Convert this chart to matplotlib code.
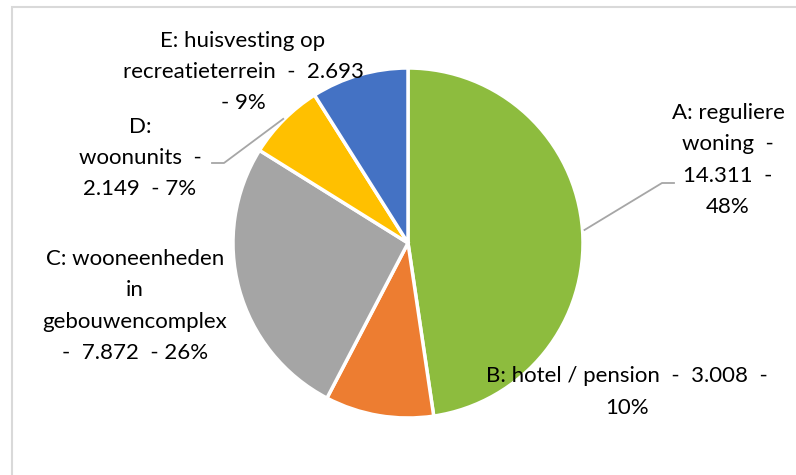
import matplotlib.pyplot as plt
import numpy as np
from matplotlib.patches import Rectangle

# data
cats = ["A: reguliere woning", "B: hotel / pension", "C: wooneenheden in gebouwencomplex",
        "D: woonunits", "E: huisvesting op recreatieterrein"]
values = [14.311, 3.008, 7.872, 2.149, 2.693]
pcts = ["48%", "10%", "26%", "7%", "9%"]
colors = ["#8DBC3E", "#ED7D31", "#A5A5A5", "#FFC000", "#4472C4"]

# label text as wrapped by the original chart
label_txt = [
    "A: reguliere\nwoning  -\n14.311  -\n48%",
    "B: hotel / pension  -  3.008  -\n10%",
    "C: wooneenheden\nin\ngebouwencomplex\n-  7.872  - 26%",
    "D:\nwoonunits  -\n2.149  - 7%",
    "E: huisvesting op\nrecreatieterrein  -  2.693\n- 9%",
]

W, H = 796, 475
fig = plt.figure(figsize=(W / 100, H / 100), dpi=100)
ax = fig.add_axes([0, 0, 1, 1])

cx, cy, r = 408, H - 243, 175
wedges, _ = ax.pie(values, colors=colors, startangle=90, counterclock=False,
                   center=(cx, cy), radius=r, frame=True,
                   wedgeprops=dict(edgecolor="white", linewidth=2.5))
ax.set_xlim(0, W)
ax.set_ylim(0, H)
ax.set_aspect("equal")
ax.axis("off")

# outer border of chart area
ax.add_patch(Rectangle((12, -20), W + 20, H - 7 + 20, fill=False,
                       edgecolor="#D9D9D9", linewidth=1.5))

font = "Lato"
# label centres (pixel coords, y from top)
label_pos = [(728, 160), (627, 392), (135, 306), (140, 158), (243, 72)]
for txt, (lx, ly) in zip(label_txt, label_pos):
    ax.text(lx, H - ly, txt, ha="center", va="center", fontsize=16,
            family=font, linespacing=1.7, color="black")

# leader lines for A and D
def mid_point(w, rad):
    a = np.deg2rad((w.theta1 + w.theta2) / 2)
    return cx + rad * np.cos(a), cy + rad * np.sin(a)

ax0, ay0 = mid_point(wedges[0], r + 2)
ax.plot([ax0, 662, 674], [ay0, H - 183, H - 183], color="#A6A6A6", lw=1.3)
dx0, dy0 = mid_point(wedges[3], r + 1)
ax.plot([dx0, 224, 212], [dy0, H - 163, H - 163], color="#A6A6A6", lw=1.3)

fig.savefig("out.png", dpi=100)
